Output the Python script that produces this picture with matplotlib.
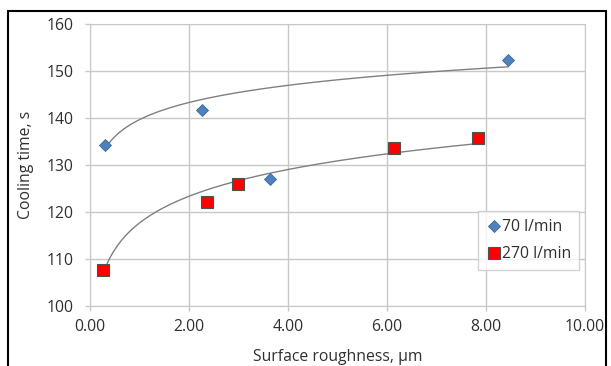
import numpy as np
import matplotlib.pyplot as plt
from matplotlib.patches import Rectangle

# Cooling time vs surface roughness, two air flow rates
x_70 = [0.30, 2.27, 3.65, 8.45]
y_70 = [134.2, 141.7, 127.0, 152.3]
x_270 = [0.26, 2.36, 3.00, 6.14, 7.84]
y_270 = [107.6, 122.1, 126.0, 133.6, 135.8]
# the 3.65 point sits off the 70 l/min trend and is left out of its fit
fit_70_idx = [0, 1, 3]

xticks = [0, 2, 4, 6, 8, 10]
xtick_labels = ['0.00', '2.00', '4.00', '6.00', '8.00', '10.00']
yticks = [100, 110, 120, 130, 140, 150, 160]

plt.rcParams['font.family'] = ['Open Sans', 'DejaVu Sans']
FS = 11.3
TXT = '#303030'

def log_trend(xs, ys):
    #Excel style logarithmic trendline y = a*ln(x) + b
    xs = np.asarray(xs); ys = np.asarray(ys)
    a, b = np.polyfit(np.log(xs), ys, 1)
    xx = np.linspace(xs.min(), xs.max(), 200)
    return xx, a*np.log(xx) + b

fig = plt.figure(figsize=(6.11, 3.66), dpi=100)
ax = fig.add_axes([0.147, 0.164, 0.81, 0.770])

#outer frame of the chart
fig.patches.append(Rectangle((8/611, -0.1), 598/611, 1.1 - 11/366, transform=fig.transFigure,
                             fill=False, edgecolor='black', lw=1.5))

xa = np.array(x_70)[fit_70_idx]
ya = np.array(y_70)[fit_70_idx]
tx, ty = log_trend(xa, ya)
ax.plot(tx, ty, color='#808080', lw=1.0, zorder=2)
tx, ty = log_trend(x_270, y_270)
ax.plot(tx, ty, color='#808080', lw=1.0, zorder=2)

ax.plot(x_70, y_70, 'D', ms=6.5, color='#4F81BD', mec='#3A6A9E', mew=0.6,
        label='70 l/min', zorder=3, ls='none')
ax.plot(x_270, y_270, 's', ms=8, color='#FF0000', mec='#505050', mew=0.8,
        label='270 l/min', zorder=3, ls='none')

ax.set_xlim(0, 10)
ax.set_ylim(100, 160)
ax.set_xticks(xticks)
ax.set_xticklabels(xtick_labels)
ax.set_yticks(yticks)
ax.grid(True, color='#C8C8C8', lw=1.0)
ax.set_axisbelow(True)
for s in ax.spines.values():
    s.set_color('#C8C8C8')
ax.tick_params(length=3.6, width=1.0, color='#C8C8C8', labelsize=FS, labelcolor=TXT)
ax.tick_params(axis='y', pad=8)
ax.tick_params(axis='x', pad=6)

ax.set_xlabel('Surface roughness, \u00b5m', fontsize=FS, color=TXT, labelpad=10)
ax.set_ylabel('Cooling time, s', fontsize=FS, color=TXT, labelpad=9)

leg = ax.legend(loc='lower left', bbox_to_anchor=(0.784, 0.128, 0.204, 0.223), mode='expand',
                fontsize=FS, frameon=True, fancybox=False, borderpad=0.5,
                handletextpad=0.05, handlelength=1.0, labelspacing=0.7, borderaxespad=0)
leg.get_frame().set_edgecolor('#C8C8C8')
leg.get_frame().set_linewidth(1.0)
for t in leg.get_texts():
    t.set_color(TXT)

fig.savefig('out.png', dpi=100)
